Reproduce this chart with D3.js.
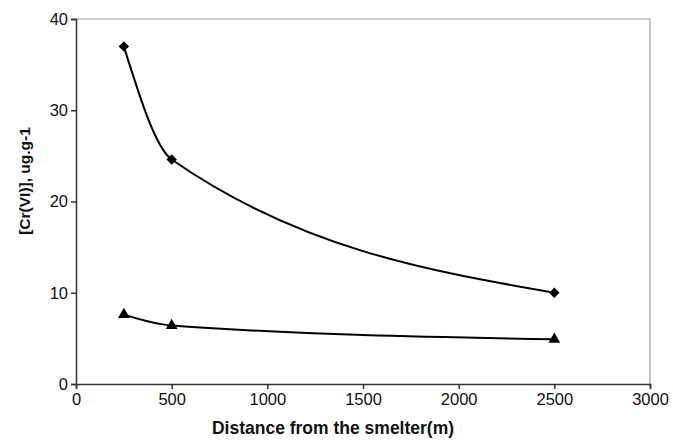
<!DOCTYPE html>
<html><head><meta charset="utf-8">
<script src="https://cdn.jsdelivr.net/npm/d3@7"></script>
<style>body{margin:0;background:#fff}svg{display:block}text{font-family:"Liberation Sans",Arial,sans-serif}</style>
</head><body>
<svg id="c" width="673" height="441"></svg>
<script>
const distances = [250, 500, 2500];
const seriesDiamond = [37.0, 24.6, 10.0];
const seriesTriangle = [7.6, 6.4, 4.9];
const xTicks = [0, 500, 1000, 1500, 2000, 2500, 3000];
const yTicks = [0, 10, 20, 30, 40];

const svg = d3.select("#c");
const L = 76, R = 650, T = 19, B = 384;
const x = d3.scaleLinear().domain([0, 3000]).range([L, R]);
const y = d3.scaleLinear().domain([0, 40]).range([B, T]);

svg.append("path").attr("d", `M${L},${T}H${R}V${B}`).attr("fill","none").attr("stroke","#999").attr("stroke-width",1.2);

const xa = svg.append("g").attr("transform",`translate(0,${B})`)
  .call(d3.axisBottom(x).tickValues(xTicks).tickSize(5).tickPadding(4).tickFormat(d3.format("d")));
const ya = svg.append("g").attr("transform",`translate(${L},0)`)
  .call(d3.axisLeft(y).tickValues(yTicks).tickSize(5).tickPadding(3).tickFormat(d3.format("d")));
[xa, ya].forEach(a => {
  a.selectAll("path,line").attr("stroke","#333").attr("stroke-width",1.5);
  a.selectAll("text").attr("font-size","16.5px").attr("fill","#111").attr("font-family",'"Liberation Sans",Arial,sans-serif');
});

const line = d3.line().x((d,i)=>x(distances[i])).y(d=>y(d)).curve(d3.curveMonotoneX);
[seriesDiamond, seriesTriangle].forEach(s => {
  svg.append("path").datum(s).attr("d", line).attr("fill","none").attr("stroke","#000").attr("stroke-width",2);
});

svg.selectAll(".dia").data(seriesDiamond).join("path")
  .attr("d", d3.symbol(d3.symbolDiamond2, 70))
  .attr("transform",(d,i)=>`translate(${x(distances[i])},${y(d)})`).attr("fill","#000");
svg.selectAll(".tri").data(seriesTriangle).join("path")
  .attr("d", d3.symbol(d3.symbolTriangle, 60))
  .attr("transform",(d,i)=>`translate(${x(distances[i])},${y(d)})`).attr("fill","#000");

svg.append("text").attr("x",333).attr("y",434).attr("text-anchor","middle")
  .attr("font-weight","bold").attr("font-size","17.5px").attr("fill","#111").text("Distance from the smelter(m)");
svg.append("text").attr("transform","translate(30,181) rotate(-90)").attr("text-anchor","middle")
  .attr("font-weight","bold").attr("font-size","15.5px").attr("fill","#111").text("[Cr(VI)], ug.g-1");
</script>
</body></html>
